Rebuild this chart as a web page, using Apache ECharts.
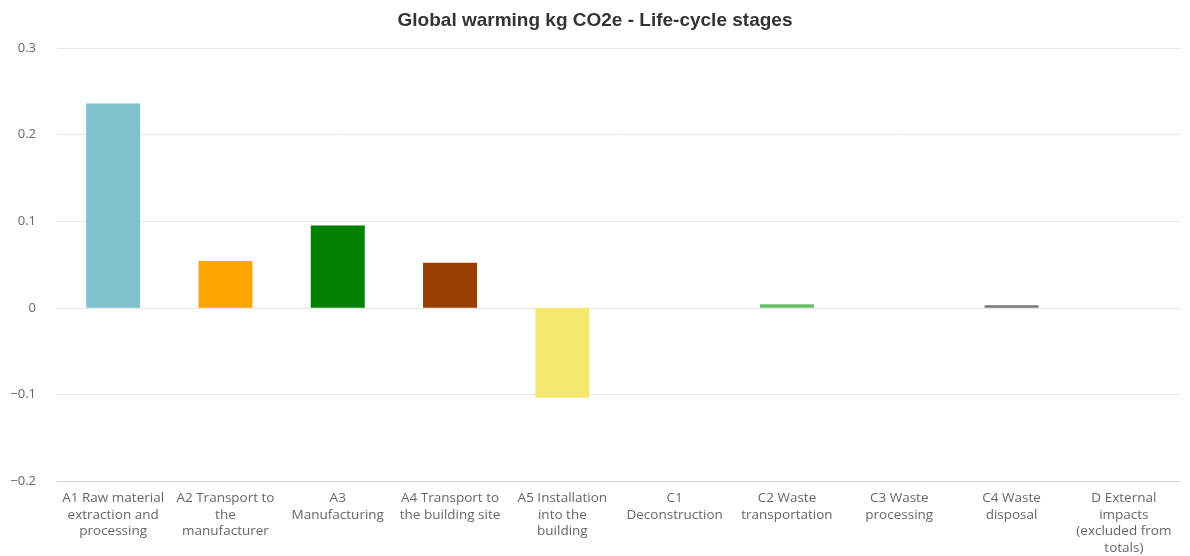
<!DOCTYPE html>
<html>
<head>
<meta charset="utf-8">
<script src="https://cdn.jsdelivr.net/npm/echarts@6/dist/echarts.min.js"></script>
<style>html,body{margin:0;padding:0;background:#fff}#c{width:1190px;height:556px}</style>
</head>
<body>
<div id="c"></div>
<script>
const titleText = 'Global warming kg CO2e - Life-cycle stages';
const categories = [
  'A1 Raw material\nextraction and\nprocessing',
  'A2 Transport to\nthe\nmanufacturer',
  'A3\nManufacturing',
  'A4 Transport to\nthe building site',
  'A5 Installation\ninto the\nbuilding',
  'C1\nDeconstruction',
  'C2 Waste\ntransportation',
  'C3 Waste\nprocessing',
  'C4 Waste\ndisposal',
  'D External\nimpacts\n(excluded from\ntotals)'
];
const values = [0.236, 0.054, 0.095, 0.052, -0.104, 0, 0.004, 0, 0.003, 0];
const colors = ['#7fc4cc', '#ffa500', '#008000', '#993d00', '#f4e76e', '#999999', '#6abf69', '#999999', '#777777', '#999999'];
const yMin = -0.2, yMax = 0.3, yStep = 0.1;

const chart = echarts.init(document.getElementById('c'));
chart.setOption({
  animation: false,
  title: {
    text: titleText,
    left: 'center',
    top: 6,
    textStyle: { fontFamily: 'Liberation Sans, Arial', fontWeight: 'bold', fontSize: 19, color: '#333333' }
  },
  grid: { left: 57, right: 10, top: 48, bottom: 75, containLabel: false },
  xAxis: {
    type: 'category',
    data: categories,
    axisLine: { onZero: false, lineStyle: { color: '#ccd6eb', width: 1 } },
    axisTick: { show: false },
    axisLabel: {
      interval: 0,
      margin: 9,
      color: '#666666',
      fontFamily: 'Open Sans',
      fontSize: 13.5,
      lineHeight: 16.5
    },
    splitLine: { show: false }
  },
  yAxis: {
    type: 'value',
    min: yMin, max: yMax, interval: yStep,
    axisLine: { show: false },
    axisTick: { show: false },
    axisLabel: {
      margin: 21,
      color: '#666666',
      fontFamily: 'Open Sans',
      fontSize: 13,
      formatter: v => { const r = Math.round(v * 10) / 10; return r === 0 ? '0' : String(r).replace('-', '\u2212'); }
    },
    splitLine: { lineStyle: { color: '#e6e6e6', width: 1 } }
  },
  series: [{
    type: 'bar',
    barWidth: 54,
    data: values.map((v, i) => ({ value: v, itemStyle: { color: colors[i] } }))
  }]
});
</script>
</body>
</html>
